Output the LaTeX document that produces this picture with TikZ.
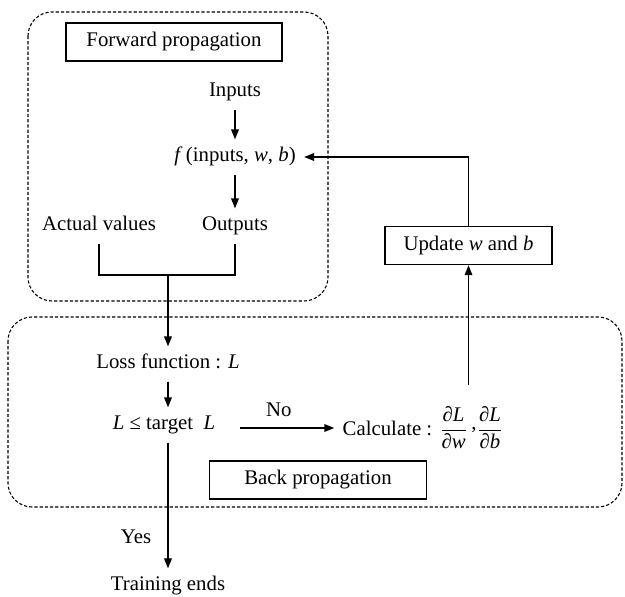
\documentclass[tikz,border=0pt]{standalone}
\usepackage{fontspec}
\setmainfont{Liberation Serif}
\usetikzlibrary{arrows.meta,positioning}
\tikzset{
  lbl/.style={inner sep=4pt, font=\fontsize{10.4}{12.5}\selectfont},
  txt/.style={lbl, text height=7pt, text depth=2.2pt},
  titlebox/.style={txt, draw, line width=0.7pt, minimum height=19pt},
  dashbox/.style={draw, dash pattern=on 1.6pt off 1pt, line width=0.55pt, rounded corners=12pt},
  flow/.style={-{Triangle[length=5pt,width=3.8pt]}, line width=0.75pt},
  link/.style={line width=0.75pt},
}
\newcommand{\pd}[2]{{\displaystyle\frac{\mbox{\itshape ∂#1}}{\mbox{\itshape ∂#2}}}}
\begin{document}
\begin{tikzpicture}[x=0.5pt, y=-0.5pt]
\useasboundingbox (0,0) rectangle (625,597);
% regions
\draw[dashbox] (28,12) rectangle (328,301);
\draw[dashbox] (8,317) rectangle (622,507);
% forward part
\node (fwd) [titlebox, minimum width=108pt] at (174,42) {Forward propagation};
\node (inputs) [txt] at (235,92) {Inputs};
\node (func) [txt] at (235,157) {\textit{f}\,(inputs, \textit{w}, \textit{b})};
\node (outputs) [txt] at (235,226) {Outputs};
\node (actual) [txt] at (99,226) {Actual values};
\coordinate (join) at (168,275);
% backward part
\node (loss) [txt] at (168,364) {Loss function : \textit{L}};
\node (check) [txt] at (164,425) {\textit{L} ≤ target~ \textit{L}};
\node (calc) [lbl] at (423,428) {Calculate : $\pd{L}{w}\,\raisebox{0.3em}{,}\pd{L}{b}$};
\node (back) [titlebox, minimum width=108.5pt] at (318,480) {Back propagation};
\node (upd) [titlebox, minimum width=83.5pt] at (468.5,245.5) {Update \textit{w} and \textit{b}};
\coordinate (upfrom) at (468.5,385);
\node (ends) [txt] at (168,586) {Training ends};
% connectors
\draw[flow] (inputs) -- (func);
\draw[flow] (func) -- (outputs);
\draw[link] (actual.south) |- (join) -| (outputs.south);
\draw[flow] (join) -- (loss);
\draw[flow] (loss) -- (loss |- check.north);
\draw[flow, shorten <=8pt] (check.east |- calc.west) -- (calc.west) node[txt, midway, above, yshift=-1pt] {No};
\draw[flow] (check.south -| ends) -- (ends) node[txt, pos=0.76, left, xshift=-4pt] {Yes};
\draw[flow] (upfrom) -- (upd.south);
\draw[flow] (upd.north) |- (func.east);
\end{tikzpicture}
\end{document}
